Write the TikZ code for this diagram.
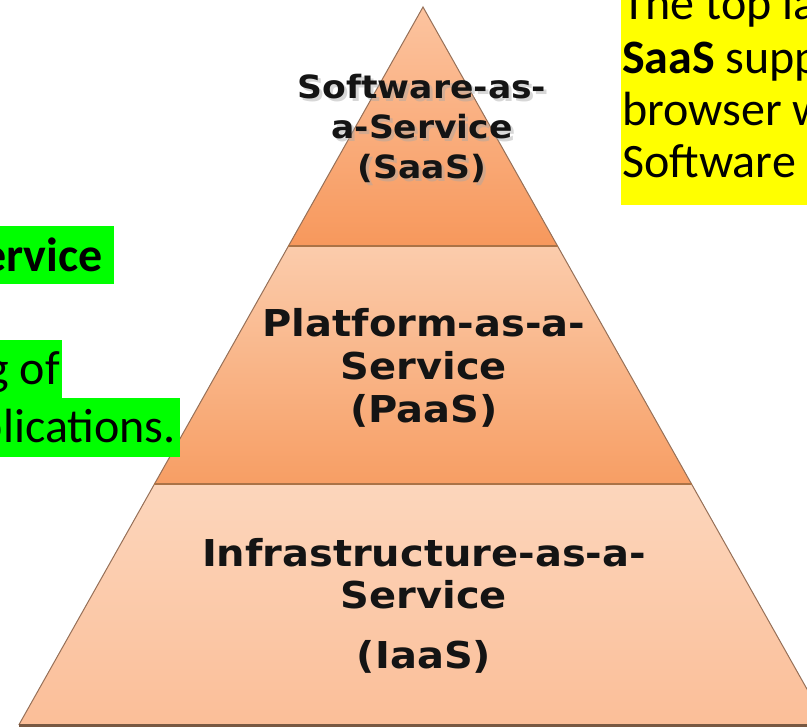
\documentclass[tikz,border=0pt]{standalone}
\usepackage{fontspec}
\setmainfont{Carlito}
\newfontfamily\layerfont{DejaVu Sans}[FakeStretch=1.08]

\definecolor{saastop}{RGB}{252,196,160}
\definecolor{saasbot}{RGB}{247,152,92}
\definecolor{paastop}{RGB}{251,204,172}
\definecolor{paasbot}{RGB}{247,158,100}
\definecolor{iaastop}{RGB}{252,214,188}
\definecolor{iaasbot}{RGB}{251,190,152}
\definecolor{edgebrown}{RGB}{150,112,88}
\definecolor{basebrown}{RGB}{120,88,66}
\definecolor{notegreen}{RGB}{0,255,0}
\definecolor{noteyellow}{RGB}{255,255,0}

\begin{document}
\begin{tikzpicture}[x=1pt,y=-1pt,
	layer/.style={font=\layerfont\bfseries, align=center, inner sep=0pt, text=black!92},
	note/.style={font=\fontsize{48}{56}\selectfont, inner sep=0pt}]

\useasboundingbox (0,0) rectangle (807,727);
\clip (0,0) rectangle (807,727);

%----------------------------
% Pyramid corners
%----------------------------
\coordinate (apex) at (423,7);
\coordinate (s1l) at (288.4,246);
\coordinate (s1r) at (557.6,246);
\coordinate (s2l) at (154.4,484);
\coordinate (s2r) at (691.6,484);
\coordinate (bl) at (18.8,725);
\coordinate (br) at (827.2,725);

% bands, light at the top, darker below
\shade[top color=saastop, bottom color=saasbot] (apex) -- (s1r) -- (s1l) -- cycle;
\shade[top color=paastop, bottom color=paasbot] (s1l) -- (s1r) -- (s2r) -- (s2l) -- cycle;
\shade[top color=iaastop, bottom color=iaasbot] (s2l) -- (s2r) -- (br) -- (bl) -- cycle;

% outline and separators
\draw[edgebrown, line width=1pt] (bl) -- (apex) -- (br);
\draw[edgebrown!80!orange, line width=1.3pt] (s1l) -- (s1r);
\draw[edgebrown!80!orange, line width=1.3pt] (s2l) -- (s2r);
\draw[basebrown, line width=3pt] (bl) -- (br);

%----------------------------
% Layer labels
%----------------------------
\node[layer, font=\layerfont\bfseries\fontsize{32}{40}\selectfont, text=black!35, opacity=.45]
	(saasshadow) at (425,131) {Software-as-\\a-Service\\(SaaS)};
\node[layer, font=\layerfont\bfseries\fontsize{32}{40}\selectfont]
	(saas) at (422,128) {Software-as-\\a-Service\\(SaaS)};
\node[layer, font=\layerfont\bfseries\fontsize{37}{43}\selectfont]
	(paas) at (424,368) {Platform-as-a-\\Service\\(PaaS)};
\node[layer, font=\layerfont\bfseries\fontsize{37}{42}\selectfont]
	(iaas) at (424,606) {Infrastructure-as-a-\\Service\\[18pt](IaaS)};

%----------------------------
% Left: green note (cut off)
%----------------------------
\fill[notegreen] (0,226) rectangle (114,284);
\fill[notegreen] (0,340) rectangle (62,398);
\fill[notegreen] (0,398) rectangle (180,457);
\node[note, anchor=base east] (gone) at (103,272) {\textbf{ervice}};
\node[note, anchor=base east] (gtwo) at (60,385) {g of};
\node[note, anchor=base east] (gthree) at (176,443) {plications.};

%----------------------------
% Right: yellow note (cut off)
%----------------------------
\fill[noteyellow] (621,0) rectangle (807,205);
\node[note, anchor=base west] (yone) at (622,20) {The top la};
\node[note, anchor=base west] (ytwo) at (622,74) {\textbf{SaaS} supp};
\node[note, anchor=base west] (ythree) at (622,126) {browser w};
\node[note, anchor=base west] (yfour) at (622,178) {Software};
\end{tikzpicture}
\end{document}
